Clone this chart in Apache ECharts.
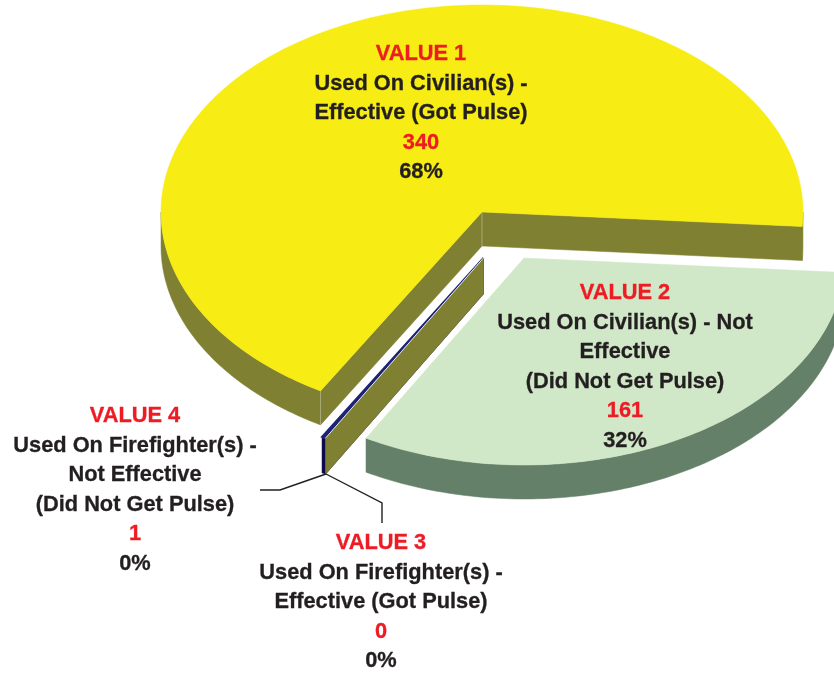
<!DOCTYPE html>
<html>
<head>
<meta charset="utf-8">
<style>html,body{margin:0;padding:0;background:#fff;overflow:hidden}#chart{width:834px;height:673px}</style>
<script src="https://cdn.jsdelivr.net/npm/echarts@6/dist/echarts.min.js"></script>
</head>
<body>
<div id="chart"></div>
<script>
// ---- data ----
const categories = ['VALUE 1', 'VALUE 2', 'VALUE 3', 'VALUE 4'];
const values = [340, 161, 0, 1];
const percents = ['68%', '32%', '0%', '0%'];
const descriptions = [
  ['Used On Civilian(s) -', 'Effective (Got Pulse)'],
  ['Used On Civilian(s) - Not', 'Effective', '(Did Not Get Pulse)'],
  ['Used On Firefighter(s) -', 'Effective (Got Pulse)'],
  ['Used On Firefighter(s) -', 'Not Effective', '(Did Not Get Pulse)']
];

// ---- styling and layout ----
const topColors = ['#f7ec13', '#d1e8c8', '#f7ec13', '#1d2474'];
const wallColors = ['#808033', '#658068', '#808033', '#0b0b4a'];
const centers = [[482, 212], [524, 258], [483.5, 258], [483.5, 258]];
const wallHeights = [34, 34, 36, 36];
const zOrder = [1, 4, 3, 2];
const labelCenters = [[421, 54], [625, 293], [381, 543], [135, 416]];
const lineGap = 29.6;
const RX = 321, RY = 207, START = 120.2;
const RED = '#ed1c24', DARK = '#231f20';
const leaderLeft = [[260, 490], [280, 490], [326, 474]];
const leaderRight = [[326, 474], [382, 503], [382, 523]];

const total = values.reduce((a, b) => a + b, 0);
const rad = d => d * Math.PI / 180;

function renderItem(params, api) {
  const i = api.value(1);
  const value = api.value(0);
  let before = 0;
  for (let k = 0; k < i; k++) before += values[k];
  const a0 = START + before / total * 360;
  const a1 = a0 + value / total * 360;
  const [cx, cy] = centers[i];
  const h = wallHeights[i];
  const pt = (t, dy) => [cx + RX * Math.cos(rad(t)), cy + RY * Math.sin(rad(t)) + (dy || 0)];
  const z = zOrder[i];
  const children = [];

  // outer rim: only the part that faces the viewer
  [[0, 180], [360, 540]].forEach(([lo, hi]) => {
    const s = Math.max(a0, lo), e = Math.min(a1, hi);
    if (e <= s) return;
    const upper = [], lower = [];
    const n = Math.max(2, Math.ceil(e - s));
    for (let j = 0; j <= n; j++) {
      const t = s + (e - s) * j / n;
      upper.push(pt(t));
      lower.unshift(pt(t, h));
    }
    children.push({ type: 'polygon', z2: z, shape: { points: upper.concat(lower) },
      style: { fill: wallColors[i], stroke: wallColors[i], lineWidth: 0.5 } });
  });

  // cut faces: visible when they turn towards the viewer
  const wall = t => ({ type: 'polygon', z2: z, shape: { points: [[cx, cy], pt(t), pt(t, h), [cx, cy + h]] },
    style: { fill: wallColors[i], stroke: wallColors[i], lineWidth: 0.5 } });
  if (Math.cos(rad(a0)) < 0) children.push(wall(a0));
  if (Math.cos(rad(a1)) > 0) children.push(wall(a1));
  // faint highlight on the vertical corners of the cut faces
  if (i === 0) {
    [[cx, cy], pt(a0)].forEach(p => children.push({ type: 'line', z2: z + 0.1,
      shape: { x1: p[0], y1: p[1], x2: p[0], y2: p[1] + h },
      style: { stroke: '#a8a878', lineWidth: 1 } }));
  }

  // top face
  if (value > 0) {
    const poly = [[cx, cy]];
    const n = Math.max(2, Math.ceil(a1 - a0));
    for (let j = 0; j <= n; j++) poly.push(pt(a0 + (a1 - a0) * j / n));
    const thin = i === 3;
    children.push({ type: 'polygon', z2: z + 0.2, shape: { points: poly },
      style: { fill: topColors[i], stroke: topColors[i], lineWidth: thin ? 2 : 0.5 } });
  } else {
    // a zero-sized slice only shows as a thin light edge
    const p = pt(a0);
    children.push({ type: 'line', z2: z + 0.2, shape: { x1: cx, y1: cy, x2: p[0], y2: p[1] },
      style: { stroke: '#e8e8f0', lineWidth: 1 } });
  }

  // label lines
  const lines = [
    { t: categories[i], c: RED },
    ...descriptions[i].map(t => ({ t, c: DARK })),
    { t: String(value), c: RED },
    { t: percents[i], c: DARK }
  ];
  lines.forEach((l, j) => children.push({
    type: 'text', z2: 20,
    style: {
      x: labelCenters[i][0], y: labelCenters[i][1] + j * lineGap,
      text: l.t, fill: l.c, stroke: l.c, lineWidth: 0.3,
      align: 'center', verticalAlign: 'middle',
      font: 'bold 21.8px "Liberation Sans", Arial, sans-serif'
    }
  }));
  return { type: 'group', children };
}

const polyline = pts => ({ type: 'polyline', z: 5, shape: { points: pts },
  style: { fill: 'none', stroke: DARK, lineWidth: 1.4 }, silent: true });

const chart = echarts.init(document.getElementById('chart'), null, { renderer: 'canvas' });
chart.setOption({
  animation: false,
  backgroundColor: '#ffffff',
  graphic: [polyline(leaderLeft), polyline(leaderRight)],
  series: [{
    type: 'custom',
    coordinateSystem: 'none',
    silent: true,
    renderItem,
    data: values.map((v, i) => [v, i])
  }]
});
</script>
</body>
</html>
